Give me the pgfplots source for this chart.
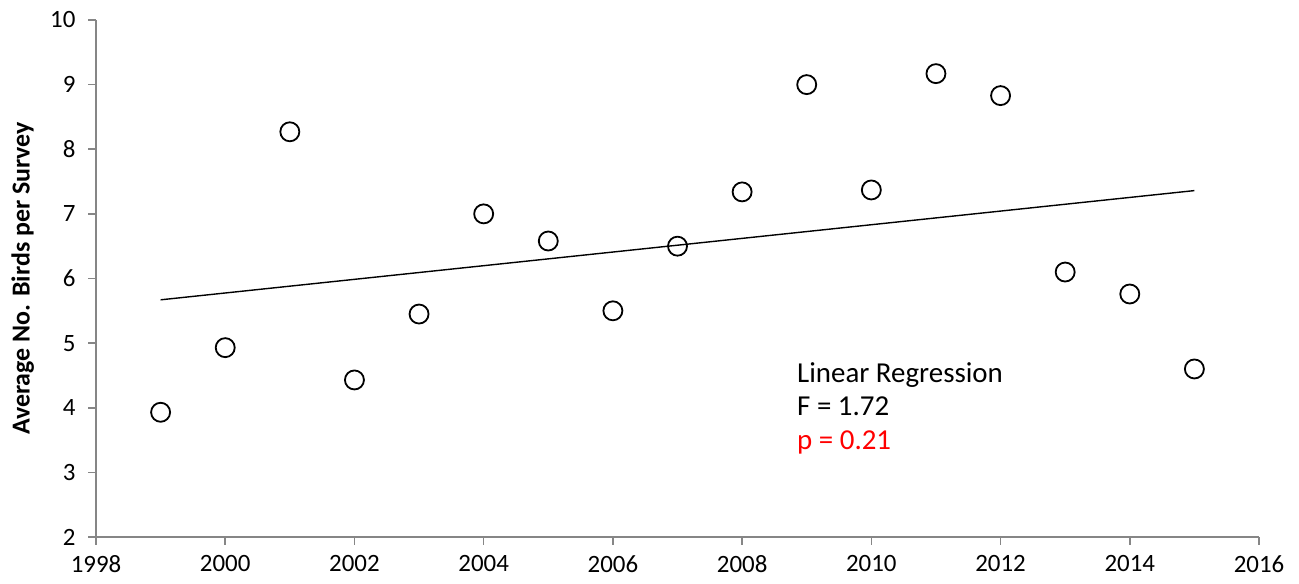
\documentclass[border=0pt]{standalone}
\usepackage{fontspec}
\setmainfont{Carlito}
\usepackage{pgfplots}
\pgfplotsset{compat=1.18}
\definecolor{axgray}{RGB}{134,134,134}
\begin{document}
\begin{tikzpicture}
\begin{axis}[
  name=ax,
  scale only axis,
  width=1163bp, height=517bp,
  xmin=1998, xmax=2016, ymin=2, ymax=10,
  xtick={1998,2000,...,2016},
  ytick={2,3,...,10},
  axis x line=bottom, axis y line=left,
  axis line style={draw=axgray, line width=1.6bp, -},
  tick style={draw=axgray, line width=1.6bp},
  tick align=outside,
  major tick length=8bp,
  xticklabel style={/pgf/number format/1000 sep={}},
  /pgf/number format/assume math mode=true,
  tick label style={font=\fontsize{25}{30}\selectfont, text=black},
  xticklabel style={yshift=-7bp},
  yticklabel style={xshift=-9bp},
  ylabel={Average No. Birds per Survey},
  ylabel style={font=\fontsize{26}{30}\selectfont\bfseries, at={(axis description cs:-0.063,0.5)}, anchor=center},
  clip=false,
]
\addplot[black, line width=1.4bp] coordinates {(1999,5.67) (2015,7.36)};
\addplot[only marks, mark=o, mark size=9.5bp, mark options={draw=black, fill=white, line width=1.8bp}] coordinates {
(1999,3.93) (2000,4.93) (2001,8.27) (2002,4.43) (2003,5.45) (2004,7.00)
(2005,6.58) (2006,5.50) (2007,6.50) (2008,7.34) (2009,9.00) (2010,7.37)
(2011,9.17) (2012,8.83) (2013,6.10) (2014,5.76) (2015,4.60)};
\node[anchor=north west, align=left, inner sep=0pt, font=\fontsize{29}{33.5}\selectfont] at (axis cs:2008.85,4.70)
  {Linear Regression\\F = 1.72\\\textcolor{red}{p = 0.21}};
\end{axis}
\path[use as bounding box] ([xshift=-96bp,yshift=-47bp]ax.south west) rectangle ([xshift=40bp,yshift=20bp]ax.north east);
\end{tikzpicture}
\end{document}
